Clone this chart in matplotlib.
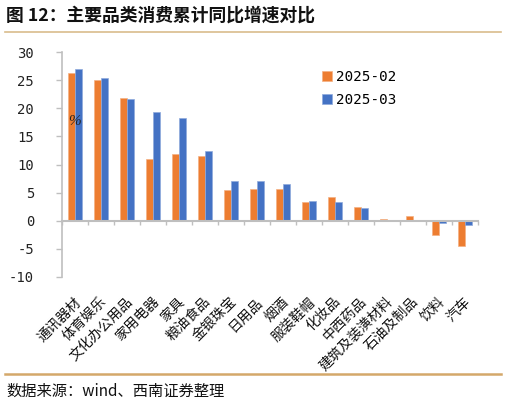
import matplotlib

matplotlib.use("Agg")
import matplotlib.pyplot as plt
import matplotlib.transforms as mtransforms
from matplotlib.lines import Line2D
import numpy as np

CJK = ["Noto Sans CJK SC", "DejaVu Sans"]
MONO = ["DejaVu Sans Mono"]

CATEGORIES = ["通讯器材", "体育娱乐", "文化办公用品", "家用电器", "家具", "粮油食品",
              "金银珠宝", "日用品", "烟酒", "服装鞋帽", "化妆品", "中西药品",
              "建筑及装潢材料", "石油及制品", "饮料", "汽车"]
FEB = [26.2, 25.1, 21.9, 11.0, 11.8, 11.5, 5.4, 5.6, 5.6, 3.3, 4.3, 2.4,
       0.3, 0.9, -2.6, -4.5]
MAR = [26.9, 25.3, 21.6, 19.3, 18.2, 12.4, 7.0, 7.0, 6.5, 3.5, 3.3, 2.2,
       0.1, -0.1, -0.4, -0.7]
SERIES = ["2025-02", "2025-03"]
Y_TICKS = [-10, -5, 0, 5, 10, 15, 20, 25, 30]
TITLE = "图 12：主要品类消费累计同比增速对比"
SOURCE = "数据来源：wind、西南证券整理"

ORANGE = "#ED7D31"
BLUE = "#4472C4"
AXIS_GRAY = "#BFBFBF"

W, H = 506, 404
fig = plt.figure(figsize=(W / 100, H / 100), dpi=100)
ax = fig.add_axes([62 / W, 1 - 277 / H, 416 / W, 225 / H])

x = np.arange(len(CATEGORIES))
bw = 0.27
ax.bar(x - bw / 2, FEB, bw, color=ORANGE, edgecolor="#F4B183", linewidth=0.5,
       label=SERIES[0])
ax.bar(x + bw / 2, MAR, bw, color=BLUE, edgecolor="#8FAADC", linewidth=0.5,
       label=SERIES[1])

ax.set_xlim(-0.5, len(CATEGORIES) - 0.5)
ax.set_ylim(-10, 30)
ax.set_yticks(Y_TICKS)
ax.set_yticklabels([str(v) for v in Y_TICKS], family=MONO, fontsize=10,
                   color="#222222")
ax.tick_params(axis="y", direction="out", length=4, color=AXIS_GRAY, width=1,
               pad=16)

for s in ["top", "right"]:
    ax.spines[s].set_visible(False)
ax.spines["left"].set_color(AXIS_GRAY)
ax.spines["left"].set_linewidth(1.2)
ax.spines["bottom"].set_position(("data", 0))
ax.spines["bottom"].set_color(AXIS_GRAY)
ax.spines["bottom"].set_linewidth(1.5)
ax.set_xticks(np.arange(-0.5, len(CATEGORIES)))
ax.set_xticklabels([])
ax.tick_params(axis="x", direction="out", length=3, color=AXIS_GRAY, width=1)

trans = mtransforms.blended_transform_factory(ax.transData, ax.transAxes)
for i, name in enumerate(CATEGORIES):
    ax.text(i - 0.05, -0.078, name, transform=trans, rotation=45,
            rotation_mode="anchor", ha="right", va="top", fontsize=10,
            family=CJK, color="#111111")

ax.text(0, 17.6, "%", family=["Liberation Serif"], style="italic",
        fontsize=11, ha="center", va="center", color="#222222")

ax.legend(loc="upper left", bbox_to_anchor=(309 / W, 1 - 57 / H),
          bbox_transform=fig.transFigure, frameon=False,
          prop={"family": MONO, "size": 10.3}, handlelength=0.7,
          handleheight=0.7, handletextpad=0.3, labelspacing=0.65)

fig.text(6 / W, 1 - 16 / H, TITLE, family=CJK, fontsize=12.8, weight="bold",
         ha="left", va="center", color="#111111")
fig.add_artist(Line2D([5 / W, 501 / W], [1 - 31.5 / H, 1 - 31.5 / H],
                      transform=fig.transFigure, color="#D9BC8C", lw=1.2))
fig.add_artist(Line2D([5 / W, 501 / W], [1 - 373.5 / H, 1 - 373.5 / H],
                      transform=fig.transFigure, color="#D4A86A", lw=1.8))
fig.text(6 / W, 1 - 391 / H, SOURCE, family=CJK, fontsize=11, style="italic",
         ha="left", va="center", color="#111111")

fig.savefig("out.png", dpi=100)
